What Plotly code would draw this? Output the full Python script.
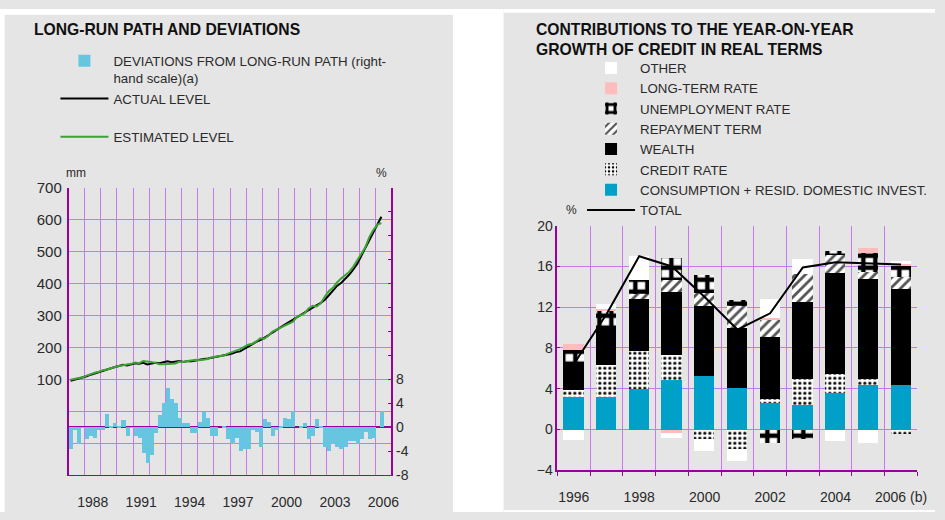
import plotly.graph_objects as go

# ---------------- left panel: quarterly data 1987Q1 - 2006Q2 ----------------
years_q = list(range(1987, 2007))
deviation = [
    -3.6, -0.4, -2.7, -0.1,   # 1987
    -2.0, -1.4, -1.7, -0.4,   # 1988
    -0.4, 2.2, 0.3, 0.8,      # 1989
    0.15, 1.3, -1.4, -0.05,   # 1990
    -1.4, -1.7, -4.3, -5.9,   # 1991
    -4.6, -1.0, 2.0, 4.0,     # 1992
    6.6, 4.8, 4.1, 1.5,       # 1993
    0.7, 0.7, -1.0, -1.0,     # 1994
    0.9, 2.6, 1.5, -1.4,      # 1995
    -1.4, 0.0, 0.2, -2.0,     # 1996
    -2.7, -1.7, -4.0, -3.6,   # 1997
    -3.6, -0.4, -0.7, -3.3,   # 1998
    1.4, 0.9, -1.4, -0.4,     # 1999
    0.2, 1.5, 1.4, 2.8,       # 2000
    0.0, 0.2, 0.7, -2.0,      # 2001
    -1.4, 1.4, 0.2, -3.3,     # 2002
    -4.0, -2.7, -3.3, -3.6,   # 2003
    -3.3, -2.3, -2.3, -2.7,   # 2004
    -2.0, -0.7, -2.0, -1.7,   # 2005
    0.0, 2.8,                 # 2006
]
actual = [
    96, 99, 102, 106,  110, 115, 119, 123,  128, 133, 136, 139,
    142, 146, 144, 148,  151, 149, 152, 147,  150, 152, 151, 153,
    157, 154, 156, 158,  155, 158, 157, 160,  161, 164, 166, 168,
    170, 172, 175, 178,  181, 186, 188, 196,  204, 211, 218, 223,
    230, 238, 247, 256,  263, 271, 279, 287,  295, 302, 310, 318,
    327, 333, 340, 350,  364, 378, 393, 402,  414, 428, 444, 462,
    487, 511, 537, 560,  585, 610,
]
estimated = [
    99, 101, 105, 107,  112, 117, 121, 124,  129, 131, 136, 139,
    142, 144, 146, 149,  153, 151, 158, 157,  155, 152, 148, 148,
    148, 148, 150, 156,  155, 158, 160, 162,  160, 161, 164, 170,
    172, 172, 175, 181,  185, 189, 195, 202,  209, 212, 219, 229,
    228, 237, 250, 256,  262, 268, 276, 280,  295, 301, 308, 323,
    331, 329, 339, 360,  377, 387, 404, 416,  427, 437, 453, 474,
    496, 513, 546, 568,  585, 590,
]
# quarter mid-points (numeric axis, one unit = one year)
quarters = [y + (q - 0.5) / 4 for y in years_q for q in range(1, 5)][:len(deviation)]
left_ticks = [1988, 1991, 1994, 1997, 2000, 2003, 2006]

# ---------------- right panel: annual contributions 1996 - 2006 ----------------
years = list(range(1996, 2007))
year_labels = ["1996", "", "1998", "", "2000", "", "2002", "", "2004", "", "2006 (b)"]
consumption = [3.2, 3.2, 3.95, 4.9, 5.25, 4.1, 2.6, 2.45, 3.6, 4.35, 4.35]
credit_rate = [0.7, 3.2, 3.75, 2.45, -0.9, -1.9, 0.4, 2.5, 1.9, 0.6, -0.4]
wealth = [2.45, 3.8, 5.1, 6.2, 6.85, 5.85, 6.1, 7.6, 9.9, 9.85, 9.45]
repayment = [0.0, 0.0, 0.55, 1.15, 1.3, 2.15, 1.7, 2.75, 1.75, 0.65, 1.15]
unemployment = [1.5, 1.45, 1.3, 2.15, 1.75, 0.6, -1.35, -0.95, 0.4, 1.9, 1.2]
long_term = [0.55, 0.2, 0.0, -0.35, 0.0, 0.0, 0.2, 0.0, 0.0, 0.5, 0.15]
other = [-1.0, 0.45, 2.45, -0.45, -1.2, -1.15, 1.8, 1.5, -1.15, -1.35, 0.25]
total = [6.4, 11.3, 17.0, 16.0, 13.0, 9.8, 11.4, 15.9, 16.4, 16.3, 16.2]

FONT = "Liberation Sans, Arial, sans-serif"
GRID = "#c878f0"
AXIS = "#990099"
PANEL = "#e5e5e5"
TXT = "#2a2a2a"

fig = go.Figure()

# left panel
fig.add_trace(go.Bar(
    x=quarters, y=deviation, width=0.25, xaxis="x", yaxis="y2",
    marker=dict(color="#66c5df", line_width=0),
    name="DEVIATIONS FROM LONG-RUN PATH (right-<br>hand scale)(a)",
    legend="legend", legendgroup="a",
))
fig.add_trace(go.Scatter(
    x=quarters, y=actual, mode="lines", xaxis="x", yaxis="y",
    line=dict(color="black", width=2), name="ACTUAL LEVEL",
    legend="legend", legendgroup="a",
))
fig.add_trace(go.Scatter(
    x=quarters, y=estimated, mode="lines", xaxis="x", yaxis="y",
    line=dict(color="#3ea235", width=2), name="ESTIMATED LEVEL",
    legend="legend", legendgroup="b",
))

# right panel: stacked contributions
pat_none = dict(shape="")
stack = [
    ("CONSUMPTION + RESID. DOMESTIC INVEST.", consumption, "#00a0c8", pat_none, 7),
    ("CREDIT RATE", credit_rate, "white",
     dict(shape=".", fgcolor="black", bgcolor="white", fgopacity=1,
          size=5, solidity=0.3), 6),
    ("WEALTH", wealth, "black", pat_none, 5),
    ("REPAYMENT TERM", repayment, "white",
     dict(shape="/", fgcolor="#555555", bgcolor="white", fgopacity=1,
          size=7, solidity=0.4), 4),
    ("UNEMPLOYMENT RATE", unemployment, "white",
     dict(shape="+", fgcolor="black", bgcolor="white", fgopacity=1,
          size=12, solidity=0.6), 3),
    ("LONG-TERM RATE", long_term, "#ffbcbc", pat_none, 2),
    ("OTHER", other, "white", pat_none, 1),
]
for name, vals, color, pattern, rank in stack:
    fig.add_trace(go.Bar(
        x=years, y=vals, width=0.62, xaxis="x2", yaxis="y3",
        marker=dict(color=color, line_width=0, pattern=pattern),
        name=name, legend="legend2", legendrank=rank,
    ))
fig.add_trace(go.Scatter(
    x=years, y=total, mode="lines", xaxis="x2", yaxis="y3",
    line=dict(color="black", width=2), name="TOTAL",
    legend="legend2", legendrank=8,
))

tickfont = dict(family=FONT, size=14, color=TXT)
legfont = dict(family=FONT, size=13.3, color=TXT)
fig.update_layout(
    width=945, height=520,
    margin=dict(l=0, r=0, t=0, b=0),
    paper_bgcolor=PANEL, plot_bgcolor="rgba(0,0,0,0)",
    font=dict(family=FONT, color=TXT),
    barmode="relative", bargap=0,
    showlegend=True,
    xaxis=dict(
        domain=[0.0733, 0.4187], range=[1987, 2007],
        tickmode="array", tickvals=[y + 0.5 for y in left_ticks],
        ticktext=[str(y) for y in left_ticks],
        showgrid=False, ticks="", tickfont=tickfont, ticklabelstandoff=14,
        showline=True, linecolor=AXIS, linewidth=1, zeroline=False,
        minor=dict(tickmode="array", tickvals=list(range(1987, 2008)),
                   showgrid=True, gridcolor=GRID, gridwidth=1, ticks=""),
        anchor="y",
    ),
    yaxis=dict(
        domain=[0.0731, 0.6442], range=[-200, 700],
        tickmode="array", tickvals=list(range(100, 800, 100)),
        showgrid=False, zeroline=False,
        minor=dict(tickmode="array", tickvals=list(range(-200, 800, 100)),
                   showgrid=True, gridcolor=GRID, gridwidth=1, ticks=""),
        showline=True, linecolor=AXIS, linewidth=1.5,
        tickfont=dict(family=FONT, size=15, color=TXT), ticks="",
        ticklabelstandoff=2, anchor="x",
    ),
    yaxis2=dict(
        overlaying="y", side="right", range=[-8, 40], anchor="x",
        tickmode="array", tickvals=list(range(-8, 44, 4)),
        ticktext=["-8", "-4", "0", "4", "8"] + [""] * 8,
        showgrid=False, zeroline=True, zerolinecolor=AXIS, zerolinewidth=1.5,
        showline=True, linecolor=AXIS, linewidth=1.5,
        ticks="inside", ticklen=4, tickcolor=AXIS, tickfont=tickfont,
    ),
    xaxis2=dict(
        domain=[0.5961, 0.9812], range=[1995.5, 2006.5],
        tickmode="array", tickvals=years, ticktext=year_labels,
        showgrid=False, ticks="", tickfont=tickfont, ticklabelstandoff=13,
        showline=True, linecolor=AXIS, linewidth=1.5, zeroline=False,
        minor=dict(tickmode="array", tickvals=[y - 0.5 for y in years] + [2006.5],
                   showgrid=True, gridcolor=GRID, gridwidth=1,
                   ticks="outside", ticklen=4, tickcolor=AXIS),
        anchor="y3",
    ),
    yaxis3=dict(
        domain=[0.0833, 0.5692], range=[-4, 20],
        tickmode="array", tickvals=list(range(-4, 24, 4)),
        showgrid=False, zeroline=False,
        minor=dict(tickmode="array", tickvals=list(range(-4, 24, 4)),
                   showgrid=True, gridcolor=GRID, gridwidth=1, ticks=""),
        showline=True, linecolor=AXIS, linewidth=1.5,
        ticks="inside", ticklen=3, tickcolor=AXIS, tickfont=tickfont,
        anchor="x2",
    ),
    legend=dict(
        x=0.0593, y=0.927, xanchor="left", yanchor="top", itemwidth=48,
        bgcolor="rgba(0,0,0,0)", traceorder="grouped", tracegroupgap=18,
        valign="top", font=legfont,
    ),
    legend2=dict(
        x=0.6225, y=0.913, xanchor="left", yanchor="top", itemwidth=48,
        bgcolor="rgba(0,0,0,0)", traceorder="normal", tracegroupgap=0,
        font=legfont,
    ),
    # white margins / gap between the two grey panels
    shapes=[
        dict(type="rect", xref="paper", yref="paper", layer="below",
             x0=0.4845, x1=0.5386, y0=0, y1=1, fillcolor="white", line_width=0),
        dict(type="rect", xref="paper", yref="paper", layer="below",
             x0=0, x1=0.005, y0=0, y1=1, fillcolor="white", line_width=0),
        dict(type="rect", xref="paper", yref="paper", layer="below",
             x0=0, x1=0.4845, y0=0.9885, y1=1, fillcolor="white", line_width=0),
        dict(type="rect", xref="paper", yref="paper", layer="below",
             x0=0.5386, x1=1, y0=0.9923, y1=1, fillcolor="white", line_width=0),
        dict(type="rect", xref="paper", yref="paper", layer="below",
             x0=0.5386, x1=1, y0=0, y1=0.004, fillcolor="white", line_width=0),
    ],
)

# titles and unit labels
title_font = dict(family=FONT, size=15.7, color="#111111")
unit_font = dict(family=FONT, size=12, color=TXT)
fig.add_annotation(text="<b>LONG-RUN PATH AND DEVIATIONS</b>", xref="paper", yref="paper",
                   x=0.034, y=0.96, xanchor="left", yanchor="middle",
                   showarrow=False, font=title_font)
fig.add_annotation(text="<b>CONTRIBUTIONS TO THE YEAR-ON-YEAR<br>GROWTH OF CREDIT IN REAL TERMS</b>",
                   xref="paper", yref="paper", x=0.571, y=0.94, xanchor="left",
                   yanchor="middle", align="left", showarrow=False, font=title_font)
fig.add_annotation(text="mm", xref="paper", yref="paper", x=0.0815, y=0.673,
                   xanchor="center", yanchor="middle", showarrow=False, font=unit_font)
fig.add_annotation(text="%", xref="paper", yref="paper", x=0.4083, y=0.673,
                   xanchor="center", yanchor="middle", showarrow=False, font=unit_font)
fig.add_annotation(text="%", xref="paper", yref="paper", x=0.6113, y=0.600,
                   xanchor="center", yanchor="middle", showarrow=False, font=unit_font)

# the page has a default 8px body margin; remove it so the figure sits at 0,0
fig.write_html("out.html", config={"displayModeBar": False},
               post_script="document.body.style.margin='0';")
